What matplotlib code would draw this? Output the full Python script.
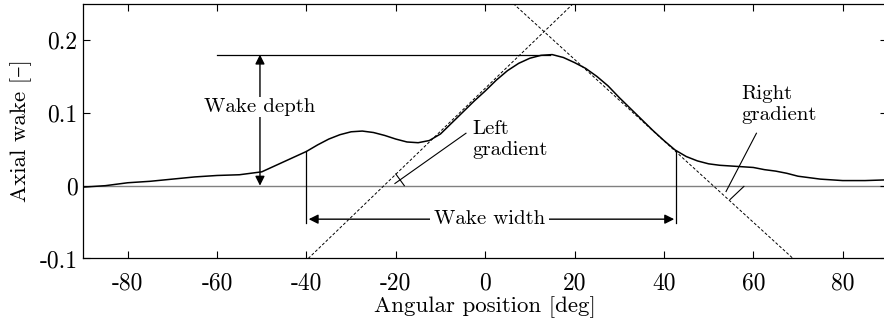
import matplotlib
matplotlib.use("Agg")
import matplotlib.pyplot as plt

plt.rcParams['font.family'] = ['cmr10', 'DejaVu Serif']
plt.rcParams['axes.unicode_minus'] = False
plt.rcParams['font.size'] = 15

# wake curve
angle = [-90, -85, -80, -75, -70, -65, -60, -55, -50, -47.5, -45, -42.5, -40,
         -37.5, -35, -32.5, -30, -27.5, -25, -22.5, -20, -17.5, -15, -12.5,
         -10, -7.5, -5, -2.5, 0, 2.5, 5, 7.5, 10, 12.5, 15, 17.5, 20, 22.5,
         25, 27.5, 30, 32.5, 35, 37.5, 40, 42.5, 45, 47.5, 50, 52.5, 55, 57.5,
         60, 62.5, 65, 67.5, 70, 72.5, 75, 77.5, 80, 85, 90]
wake = [-0.002, 0.000, 0.004, 0.006, 0.009, 0.012, 0.014, 0.015, 0.019, 0.026,
        0.033, 0.040, 0.047, 0.056, 0.064, 0.070, 0.074, 0.075, 0.073, 0.069,
        0.064, 0.060, 0.059, 0.062, 0.071, 0.086, 0.101, 0.116, 0.130, 0.145,
        0.158, 0.168, 0.175, 0.179, 0.180, 0.176, 0.169, 0.161, 0.150, 0.137,
        0.121, 0.106, 0.091, 0.076, 0.062, 0.049, 0.040, 0.034, 0.030, 0.028,
        0.027, 0.026, 0.025, 0.022, 0.020, 0.017, 0.013, 0.011, 0.009, 0.008,
        0.007, 0.007, 0.008]

peak = 0.180
depth_x = -50.4
width_left, width_right = -40, 42.8
left_grad_x = [-39.6, 19.7]
left_grad_y = [-0.1, 0.25]
right_grad_x = [6.3, 68.9]
right_grad_y = [0.25, -0.1]

xticks = [-80, -60, -40, -20, 0, 20, 40, 60, 80]
xtick_labels = ['-80', '-60', '-40', '-20', '0', '20', '40', '60', '80']
yticks = [-0.1, 0, 0.1, 0.2]
ytick_labels = ['-0.1', '0', '0.1', '0.2']

fig = plt.figure(figsize=(8.84, 3.29), dpi=100)
ax = fig.add_axes([0.0939, 0.2143, 0.9099, 0.7747])

ax.axhline(0, color='#808080', lw=1.0, zorder=1)
ax.plot(angle, wake, color='black', lw=1.1, zorder=3)

# tangent lines
ax.plot(left_grad_x, left_grad_y, color='black', lw=0.7, ls=(0, (3, 2)), zorder=2)
ax.plot(right_grad_x, right_grad_y, color='black', lw=0.7, ls=(0, (3, 2)), zorder=2)

# wake depth
ax.plot([-60, 14.5], [peak, peak], color='black', lw=0.9)
ax.annotate('', xy=(depth_x, 0), xytext=(depth_x, peak),
            arrowprops=dict(arrowstyle='<|-|>', color='black', lw=1.0,
                            mutation_scale=14, shrinkA=0, shrinkB=0))
ax.text(depth_x, 0.108, 'Wake depth', ha='center', va='center',
        bbox=dict(facecolor='white', edgecolor='none', pad=1))

# wake width
ax.plot([width_left, width_left], [0.047, -0.051], color='black', lw=0.9)
ax.plot([width_right, width_right], [0.048, -0.051], color='black', lw=0.9)
ax.annotate('', xy=(width_left + 0.5, -0.046), xytext=(width_right - 0.5, -0.046),
            arrowprops=dict(arrowstyle='<|-|>', color='black', lw=1.0,
                            mutation_scale=14, shrinkA=0, shrinkB=0))
ax.text(1.0, -0.046, 'Wake width', ha='center', va='center',
        bbox=dict(facecolor='white', edgecolor='none', pad=3))

# left gradient label
ax.plot([-4.3, -20.2], [0.072, 0.003], color='black', lw=0.8)
ax.plot([-20.0, -18.1], [0.016, 0.0], color='black', lw=0.8)
ax.text(-2.8, 0.063, 'Left\ngradient', ha='left', va='center', linespacing=1.2)

# right gradient label
ax.plot([60.7, 53.9], [0.072, -0.008], color='black', lw=0.8)
ax.plot([54.8, 57.9], [-0.019, -0.001], color='black', lw=0.8)
ax.text(57.4, 0.111, 'Right\ngradient', ha='left', va='center', linespacing=1.2)

ax.set_xlim(-90, 90)
ax.set_ylim(-0.1, 0.25)
ax.set_xticks(xticks)
ax.set_xticklabels(xtick_labels, fontsize=17)
ax.set_yticks(yticks)
ax.set_yticklabels(ytick_labels, fontsize=17)
ax.tick_params(direction='in', length=5, width=0.8, top=True, right=True)
ax.tick_params(axis='x', pad=10)
ax.tick_params(axis='y', pad=4)
for s in ax.spines.values():
    s.set_linewidth(0.9)
ax.set_xlabel('Angular position [deg]', fontsize=16.5, labelpad=1)
ax.set_ylabel('Axial wake [–]', fontsize=16.5, labelpad=5)

fig.savefig('out.png', dpi=100)
